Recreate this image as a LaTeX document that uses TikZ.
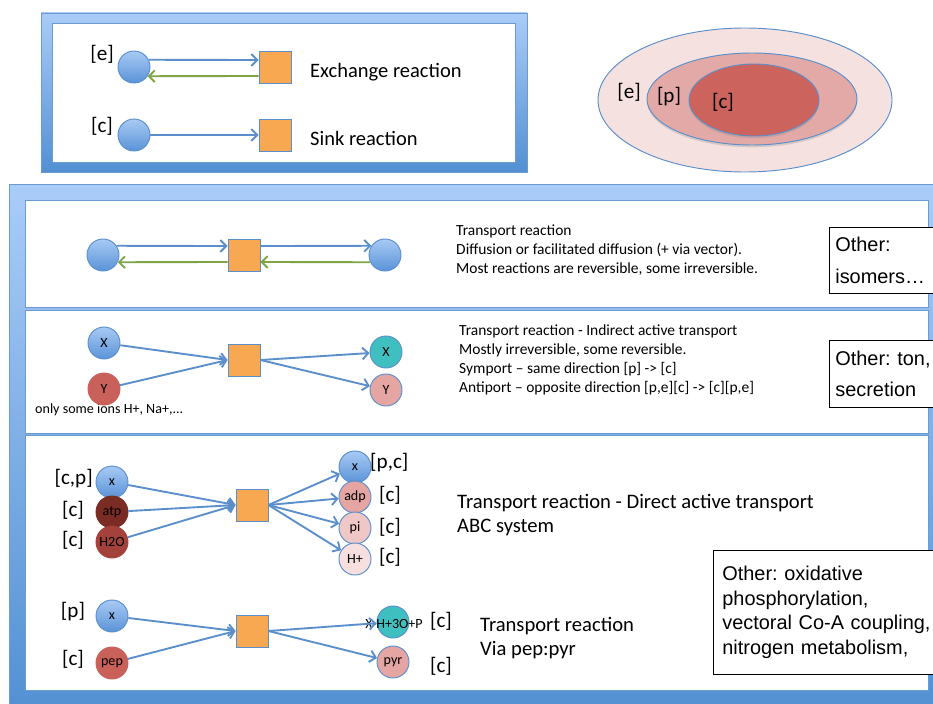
\documentclass[tikz,border=0pt]{standalone}
\usepackage{fontspec}
\setmainfont{Carlito}
\newfontfamily\arialfont{Liberation Sans}
\usetikzlibrary{arrows.meta,shadows}
\frenchspacing
\definecolor{frametop}{HTML}{AACCF8}
\definecolor{framebot}{HTML}{5290D3}
\definecolor{frameline}{HTML}{6B9BD1}
\definecolor{metlight}{HTML}{A8CAF4}
\definecolor{metblue}{HTML}{5A93D8}
\definecolor{rxnorange}{HTML}{F9A852}
\definecolor{arrblue}{HTML}{5A8FCC}
\definecolor{arrgreen}{HTML}{7EA444}
\definecolor{metred}{HTML}{C9615A}
\definecolor{metdark}{HTML}{7A2C24}
\definecolor{metbrick}{HTML}{A3413A}
\definecolor{metteal}{HTML}{40BFC1}
\definecolor{metpink}{HTML}{E4A5A3}
\definecolor{metrose}{HTML}{EEC7C6}
\definecolor{metpale}{HTML}{F6DFDE}
\definecolor{compe}{HTML}{F4E1E0}
\definecolor{compp}{HTML}{E3A9A7}
\definecolor{compc}{HTML}{CC635C}
\begin{document}
\begin{tikzpicture}[x=0.03cm,y=-0.03cm,
  met/.style={circle,draw=arrblue,line width=0.8pt,minimum size=0.96cm,inner sep=0pt,font=\fontsize{12}{12}\selectfont},
  metb/.style={met,top color=metlight,bottom color=metblue},
  rxn/.style={rectangle,draw=arrblue,line width=0.8pt,fill=rxnorange,minimum size=0.96cm,inner sep=0pt},
  flux/.style={draw=arrblue,line width=1.6pt,-{Straight Barb[length=5pt,width=10pt]}},
  back/.style={flux,draw=arrgreen},
  comp/.style={font=\fontsize{18}{18}\selectfont,inner sep=0pt},
  note/.style={anchor=north west,align=left,inner sep=0pt},
  other/.style={draw=black,line width=0.6pt,fill=white,anchor=north west,align=left,inner xsep=0.18cm,inner ysep=0pt}]
\useasboundingbox (0,0) rectangle (933,703);
\clip (0,0) rectangle (933,703);
% frames
\shade[top color=frametop,bottom color=framebot,draw=frameline] (41,13) rectangle (527,172);
\draw[fill=white,draw=frameline,line width=0.8pt] (52,23) rectangle (515,162);
\shade[top color=frametop,bottom color=framebot,draw=frameline] (9,184) rectangle (945,715);
\draw[fill=white,draw=frameline,line width=0.8pt] (25,200) rectangle (928,307);
\draw[fill=white,draw=frameline,line width=0.8pt] (25,310) rectangle (928,433);
\draw[fill=white,draw=frameline,line width=0.8pt] (25,435) rectangle (928,690);
% compartments
\draw[fill=compe,draw=arrblue,line width=0.8pt] (745,100) ellipse [x radius=4.41cm,y radius=2.16cm];
\draw[fill=compp,draw=arrblue,line width=0.8pt,drop shadow={opacity=0.25,shadow xshift=0pt,shadow yshift=-2pt}] (752,99) ellipse [x radius=3.15cm,y radius=1.38cm];
\draw[fill=compc,draw=arrblue,line width=0.8pt,drop shadow={opacity=0.25,shadow xshift=0pt,shadow yshift=-2pt}] (754,100) ellipse [x radius=1.95cm,y radius=1.08cm];
\node[comp] (ce) at (629,92) {[e]};
\node[comp] (cp) at (669,97) {[p]};
\node[comp] (cc) at (723,102) {[c]};
% exchange and sink
\node[metb] (ex) at (134,67) {};
\node[rxn] (exr) at (275,67) {};
\node[metb] (sk) at (134,135) {};
\node[rxn] (skr) at (275,135) {};
\node[comp] (exl) at (102,54) {[e]};
\node[comp] (skl) at (102,126) {[c]};
\node[anchor=west,inner sep=0pt,font=\fontsize{17.5}{17.5}\selectfont] (ext) at (310,72) {Exchange reaction};
\node[anchor=west,inner sep=0pt,font=\fontsize{17.5}{17.5}\selectfont] (skt) at (310,138) {Sink reaction};
\path
  (ex.26) edge[flux] ([yshift=0.21cm]exr.west)
  ([yshift=-0.27cm]exr.west) edge[back] (ex.-34)
  (sk) edge[flux] (skr.west);
% diffusion
\node[metb] (da) at (103,255) {};
\node[rxn] (dr) at (244,255) {};
\node[metb] (db) at (385,255) {};
\path
  (da.34) edge[flux] ([yshift=0.27cm]dr.west)
  ([yshift=0.27cm]dr.east) edge[flux] (db.146)
  (db.-154) edge[back] ([yshift=-0.21cm]dr.east)
  ([yshift=-0.21cm]dr.west) edge[back] (da.-26);
\node[note,font=\fontsize{13.2}{16.2}\selectfont] (dt) at (456,225) {Transport reaction\\Diffusion or facilitated diffusion (+ via vector).\\Most reactions are reversible, some irreversible.};
\node[other,text width=2.9cm,minimum height=1.98cm,font=\arialfont\fontsize{17}{27}\selectfont] (do) at (829,227) {Other:\\isomers…};
% indirect active
\node[anchor=west,inner sep=0pt,font=\fontsize{12}{12}\selectfont] (it) at (35,410) {only some ions H+, Na+,...};
\node[metb] (ix) at (104,343) {X};
\node[met,fill=metred,draw=metred] (iy) at (104,389) {Y};
\node[rxn] (ir) at (244,360) {};
\node[met,fill=metteal] (ixb) at (386,352) {X};
\node[met,fill=metpink] (iyb) at (386,390) {Y};
\path
  (ix) edge[flux] (ir.west)
  (iy) edge[flux] (ir.west)
  (ir.east) edge[flux] (ixb)
  (ir.east) edge[flux] (iyb);
\node[note,font=\fontsize{13.2}{16.2}\selectfont] (itx) at (459,325) {Transport reaction - Indirect active transport\\Mostly irreversible, some reversible.\\Symport – same direction [p] -> [c]\\Antiport – opposite direction [p,e][c] -> [c][p,e]};
\node[other,text width=2.9cm,minimum height=2.01cm,font=\arialfont\fontsize{17}{27}\selectfont] (io) at (829,340) {Other: ton,\\secretion};
% ABC system
\node[metb] (ax) at (112,482) {x};
\node[met,fill=metdark,draw=metdark] (aatp) at (112,512) {atp};
\node[met,fill=metbrick,draw=metbrick] (ah) at (112,542) {H2O};
\node[rxn] (ar) at (252,505) {};
\node[metb] (axb) at (355,467) {x};
\node[met,fill=metpink] (aadp) at (355,497) {adp};
\node[met,fill=metrose] (api) at (355,528) {pi};
\node[met,fill=metpale] (ahp) at (355,559) {H+};
\node[comp,anchor=east] (axl) at (93,479) {[c,p]};
\node[comp] (aatpl) at (73,510) {[c]};
\node[comp] (ahl) at (73,540) {[c]};
\node[comp,anchor=west] (axbl) at (370,463) {[p,c]};
\node[comp] (aadpl) at (390,495) {[c]};
\node[comp] (apil) at (390,527) {[c]};
\node[comp] (ahpl) at (390,557) {[c]};
\path
  (ax) edge[flux] (ar.west)
  (aatp) edge[flux] (ar.west)
  (ah) edge[flux] (ar.west)
  (ar.east) edge[flux] (axb)
  (ar.east) edge[flux] (aadp)
  (ar.east) edge[flux] (api)
  (ar.east) edge[flux] (ahp);
\node[note,font=\fontsize{17.6}{20.5}\selectfont] (atx) at (457,494) {Transport reaction - Direct active transport\\ABC system};
% pep:pyr
\node[metb] (px) at (112,616) {x};
\node[met,fill=metred,draw=metred] (ppep) at (112,663) {pep};
\node[rxn] (pr) at (252,631) {};
\node[met,fill=metteal] (pxb) at (393,622) {};
\node[met,fill=metpink] (ppyr) at (393,662) {pyr};
\node[inner sep=0pt,font=\fontsize{12}{12}\selectfont] (pxbt) at (394,624) {X-H+3O+P};
\node[comp] (pxl) at (73,612) {[p]};
\node[comp] (ppepl) at (73,659) {[c]};
\node[comp] (pxbl) at (441,621) {[c]};
\node[comp] (ppyrl) at (441,666) {[c]};
\path
  (px) edge[flux] (pr.west)
  (ppep) edge[flux] (pr.west)
  (pr.east) edge[flux] (pxb)
  (pr.east) edge[flux] (ppyr);
\node[note,font=\fontsize{17.6}{20.5}\selectfont] (ptx) at (480,617) {Transport reaction\\Via pep:pyr};
\node[other,inner xsep=0.27cm,text width=6.27cm,minimum height=3.72cm,font=\arialfont\fontsize{17}{21}\selectfont] (po) at (713,550) {Other: oxidative\\phosphorylation,\\vectoral Co-A coupling,\\nitrogen metabolism,};
\end{tikzpicture}
\end{document}
